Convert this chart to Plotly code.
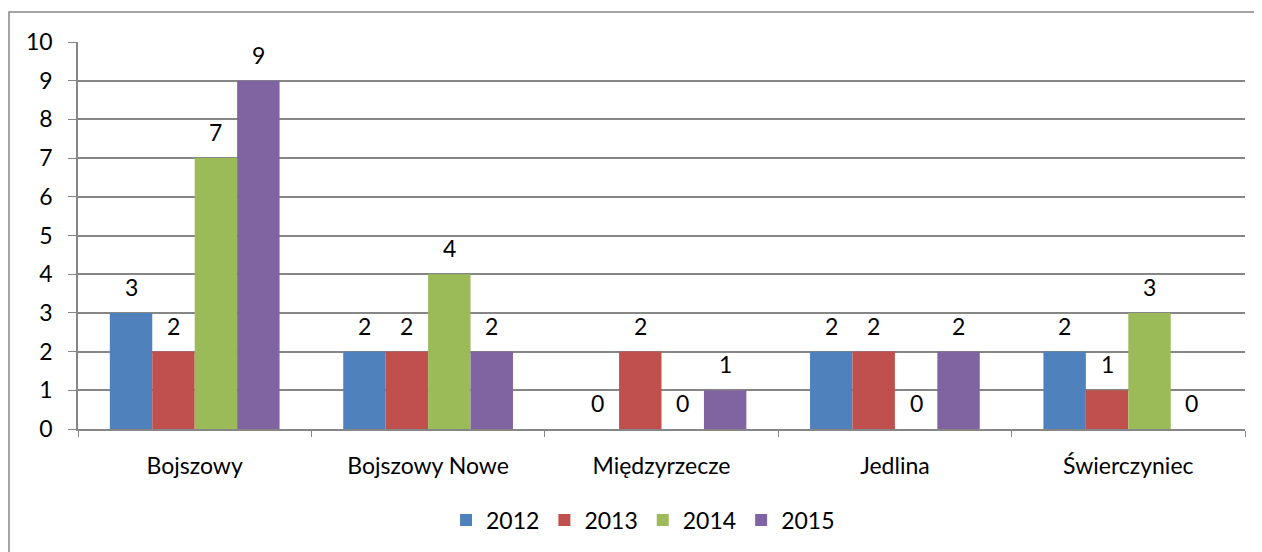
import plotly.graph_objects as go

categories = ["Bojszowy", "Bojszowy Nowe", "Międzyrzecze", "Jedlina", "Świerczyniec"]
years = ["2012", "2013", "2014", "2015"]
v2012 = [3, 2, 0, 2, 2]
v2013 = [2, 2, 2, 2, 1]
v2014 = [7, 4, 0, 0, 3]
v2015 = [9, 2, 1, 2, 0]
series = [v2012, v2013, v2014, v2015]
colors = ["#4F81BD", "#C0504D", "#9BBB59", "#8064A2"]
y_ticks = list(range(0, 11))

FONT = "Lato"
FS = 23
GRID = "#868686"
bargap = 1.5 / 5.5

# page body has an 8px margin: plot area target (window px) left 78, top 42, right 1245, bottom 429
ML, MT = 70, 34
MR = 1262 - (1245 - 8)
MB = 552 - (429 - 8)
PW = 1262 - ML - MR
PH = 552 - MT - MB

fig = go.Figure()
for name, vals, col in zip(years, series, colors):
    fig.add_trace(go.Bar(x=categories, y=vals, name=name,
                         marker=dict(color=col, line=dict(width=0))))

# data labels
w = (1 - bargap) / len(series)
for k, vals in enumerate(series):
    for i, v in enumerate(vals):
        fig.add_annotation(x=i + (k - (len(series) - 1) / 2) * w, y=v, xref="x", yref="y",
                           text=str(v), showarrow=False, yanchor="bottom", yshift=10,
                           font=dict(family=FONT, size=FS, color="#000000"))

# outer chart border (extends beyond the visible area on right/bottom)
fig.add_shape(type="rect", xref="paper", yref="paper",
              x0=(1 - ML) / PW, x1=1.2, y0=-0.6, y1=1 + (MT - 4) / PH,
              line=dict(color=GRID, width=1.5), fillcolor="rgba(0,0,0,0)", layer="below")

fig.update_layout(
    width=1262, height=552,
    margin=dict(l=ML, r=MR, t=MT, b=MB, autoexpand=False),
    paper_bgcolor="white", plot_bgcolor="white",
    barmode="group", bargap=bargap, bargroupgap=0,
    font=dict(family=FONT, size=FS, color="#000000"),
    legend=dict(orientation="h", x=(643 - 8 - ML) / PW, xanchor="center",
                y=-(520 - 429) / PH, yanchor="middle",
                font=dict(family=FONT, size=FS), itemwidth=30, traceorder="normal"),
    xaxis=dict(type="category", tickson="boundaries", ticks="outside", ticklen=6,
               tickcolor=GRID, showline=True, linecolor=GRID, linewidth=1.5,
               showgrid=False, ticklabelstandoff=16, tickfont=dict(size=FS)),
    yaxis=dict(range=[0, 10], tickvals=y_ticks, ticks="outside", ticklen=8, tickcolor=GRID,
               showline=True, linecolor=GRID, linewidth=1.5, showgrid=True, gridcolor=GRID,
               gridwidth=1.5, zeroline=False, ticklabelstandoff=11, tickfont=dict(size=FS)),
)

fig.write_html("out.html")
